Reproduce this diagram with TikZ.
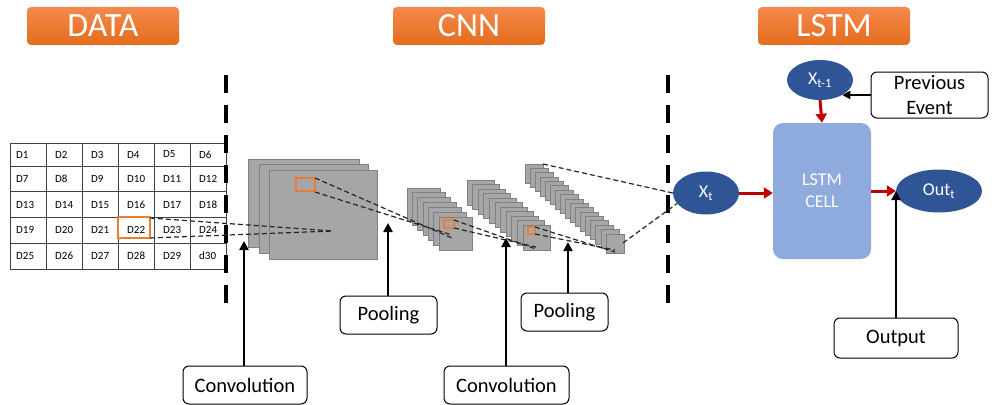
\documentclass[tikz,border=0pt]{standalone}
\usepackage{fontspec}
\setmainfont{Carlito}
\usetikzlibrary{arrows.meta,shapes.geometric}
\definecolor{orangeT}{HTML}{F4894C}
\definecolor{orangeB}{HTML}{E46C1C}
\definecolor{mapgray}{HTML}{A6A6A6}
\definecolor{mapedge}{HTML}{808080}
\definecolor{hlorange}{HTML}{ED7D31}
\definecolor{ellblue}{HTML}{2F5597}
\definecolor{cellblue}{HTML}{8FAADC}
\definecolor{arrred}{HTML}{C00000}
\definecolor{gridc}{HTML}{404040}
\begin{document}
\begin{tikzpicture}[x=1pt,y=-1pt,
  titlebox/.style={rounded corners=4pt, top color=orangeT, bottom color=orangeB, draw=none,
    minimum width=152pt, minimum height=38pt, text=white, inner sep=0pt,
    font=\fontsize{34}{36}\selectfont},
  celltext/.style={inner sep=0pt, font=\fontsize{11}{12}\selectfont},
  gridline/.style={draw=gridc, line width=1pt},
  divider/.style={line width=4pt, dash pattern=on 18pt off 12pt},
  fmap/.style={fill=mapgray, draw=mapedge, line width=0.8pt},
  hlbox/.style={draw=hlorange, line width=2.2pt},
  guide/.style={draw=black!85, line width=1.2pt, dash pattern=on 5pt off 3pt},
  labelbox/.style={draw=black, line width=1pt, rounded corners=6pt, fill=white,
    inner sep=0pt, font=\fontsize{20.5}{25}\selectfont},
  blkarrow/.style={line width=2.5pt, -{Triangle[length=9pt,width=9pt]}},
  redarrow/.style={draw=arrred, line width=3pt, -{Triangle[length=9pt,width=11pt]}},
  blueell/.style={ellipse, fill=ellblue, text=white, inner sep=0pt,
    font=\fontsize{18}{20}\selectfont},
]
\useasboundingbox (0,0) rectangle (992,404);

% ---- titles
\node[titlebox] (tdata) at (103,26) {DATA};
\node[titlebox] (tcnn)  at (469,26) {CNN};
\node[titlebox] (tlstm) at (834,26) {LSTM};

% ---- data grid
\draw[gridline] (10,143) rectangle (226,269);
\foreach \xx in {46,82,118,154,190} \draw[gridline] (\xx,143) -- (\xx,269);
\foreach \yy in {166,191,217,243} \draw[gridline] (10,\yy) -- (226,\yy);
\foreach \lab [count=\i from 0] in {D1,D2,D3,D4,D5,D6,D7,D8,D9,D10,D11,D12,D13,D14,D15,D16,D17,D18,D19,D20,D21,D22,D23,D24,D25,D26,D27,D28,D29,d30}{
  \pgfmathtruncatemacro{\row}{floor(\i/6)}
  \pgfmathtruncatemacro{\col}{mod(\i,6)}
  \pgfmathsetmacro{\yc}{{154.5,178.5,204.5,230,256}[\row]}
  \pgfmathsetmacro{\xl}{\col==0 ? 16 : 55+36*(\col-1)}
  \node[celltext, anchor=west] (cell\i) at (\xl,\yc) {\lab};
}
\draw[hlbox] (118,217) rectangle (150,238);
\coordinate (d22a) at (150,218);
\coordinate (d22b) at (150,238);

% ---- dividers
\coordinate (divLt) at (226,75);
\coordinate (divLb) at (226,305);
\coordinate (divRt) at (668,75);
\coordinate (divRb) at (668,305);
\draw[divider] (divLt) -- (divLb);
\draw[divider] (divRt) -- (divRb);

% ---- first convolution maps
\draw[fmap] (248,159) rectangle (359,247);
\draw[fmap] (259,164) rectangle (368,253);
\draw[fmap] (269,170) rectangle (377,259);
\coordinate (m1end) at (333,231);
\draw[hlbox] (296,178) rectangle (315,191);
\coordinate (m1a) at (315,178);
\coordinate (m1b) at (315,192);

% ---- pooling 1 stack
\foreach \k in {0,...,6}
  \draw[fmap] ({407+5.33*\k},{188+4.83*\k}) rectangle ++(33,33);
\coordinate (g2end) at (452,238);
\draw[hlbox, line width=2pt] (444,220) rectangle (454,228);
\coordinate (g2a) at (454,220);
\coordinate (g2b) at (454,228);

% ---- convolution 2 stack
\foreach \k in {0,...,10}
  \draw[fmap] ({467+5.6*\k},{180+4.5*\k}) rectangle ++(27,25);
\coordinate (g3end) at (536,249);
\draw[hlbox, line width=2pt] (528,227) rectangle (535,234);
\coordinate (g3a) at (535,227);
\coordinate (g3b) at (535,234);

% ---- pooling 2 stack
\foreach \k in {0,...,16}
  \draw[fmap] ({525+5.06*\k},{164+4.375*\k}) rectangle ++(18,19);
\coordinate (g4end) at (615,252);
\coordinate (g4tl) at (543,164);
\coordinate (g4br) at (623,243);

% ---- LSTM part
\node[draw=none, fill=cellblue, rounded corners=10pt, minimum width=98pt, minimum height=136pt,
  text=white, align=center, inner sep=0pt, font=\fontsize{18}{22}\selectfont]
  (cell) at (822,191) {LSTM\\CELL};
\node[blueell, minimum width=66pt, minimum height=40pt] (xtm1) at (820,80) {X\textsubscript{t-1}};
\node[blueell, minimum width=66pt, minimum height=43pt] (xt) at (706,193) {X\textsubscript{t}};
\node[blueell, minimum width=86pt, minimum height=43pt] (out) at (939,191) {Out\textsubscript{t}};
\node[labelbox, minimum width=117pt, minimum height=46pt, align=center] (prev) at (929.5,95) {Previous\\Event};

% ---- labels
\node[labelbox, minimum width=124pt, minimum height=38pt] (conv1) at (245,385) {Convolution};
\node[labelbox, minimum width=97pt, minimum height=38pt] (pool1) at (388.5,315) {Pooling};
\node[labelbox, minimum width=125pt, minimum height=38pt] (conv2) at (506.5,385) {Convolution};
\node[labelbox, minimum width=87pt, minimum height=38pt] (pool2) at (564.5,312) {Pooling};
\node[labelbox, minimum width=124pt, minimum height=40pt] (output) at (896,338) {Output};

% ---- dashed guides
\draw[guide] (d22a) -- (m1end);
\draw[guide] (d22b) -- (m1end);
\draw[guide] (m1a) -- (g2end);
\draw[guide] (m1b) -- ([yshift=3pt]g2end);
\draw[guide] (g2a) -- (g3end);
\draw[guide] (g2b) -- ([yshift=2pt]g3end);
\draw[guide] (g3a) -- (g4end);
\draw[guide] (g3b) -- ([yshift=2pt]g4end);
\draw[guide] (g4tl) -- (xt.west);
\draw[guide] (g4br) -- (xt.200);

% ---- arrows
\coordinate (c1tip) at (244,241);
\coordinate (p1tip) at (388,223);
\coordinate (c2tip) at (506,238);
\coordinate (p2tip) at (568,242);
\draw[blkarrow] (conv1.north -| c1tip) -- (c1tip);
\draw[blkarrow] (pool1.north -| p1tip) -- (p1tip);
\draw[blkarrow] (conv2.north -| c2tip) -- (c2tip);
\draw[blkarrow] (pool2.north -| p2tip) -- (p2tip);
\draw[blkarrow] (output.north) -- (output.north |- out.west);
\draw[line width=2pt, -{Triangle[length=8pt,width=8pt]}] (prev.west) -- (prev.west -| xtm1.-34);
\draw[redarrow] (xtm1.south) -- (cell.north);
\draw[redarrow] (xt.east) -- (xt.east -| cell.west);
\draw[redarrow] (cell.east |- out.west) -- (out.west);
\end{tikzpicture}
\end{document}
